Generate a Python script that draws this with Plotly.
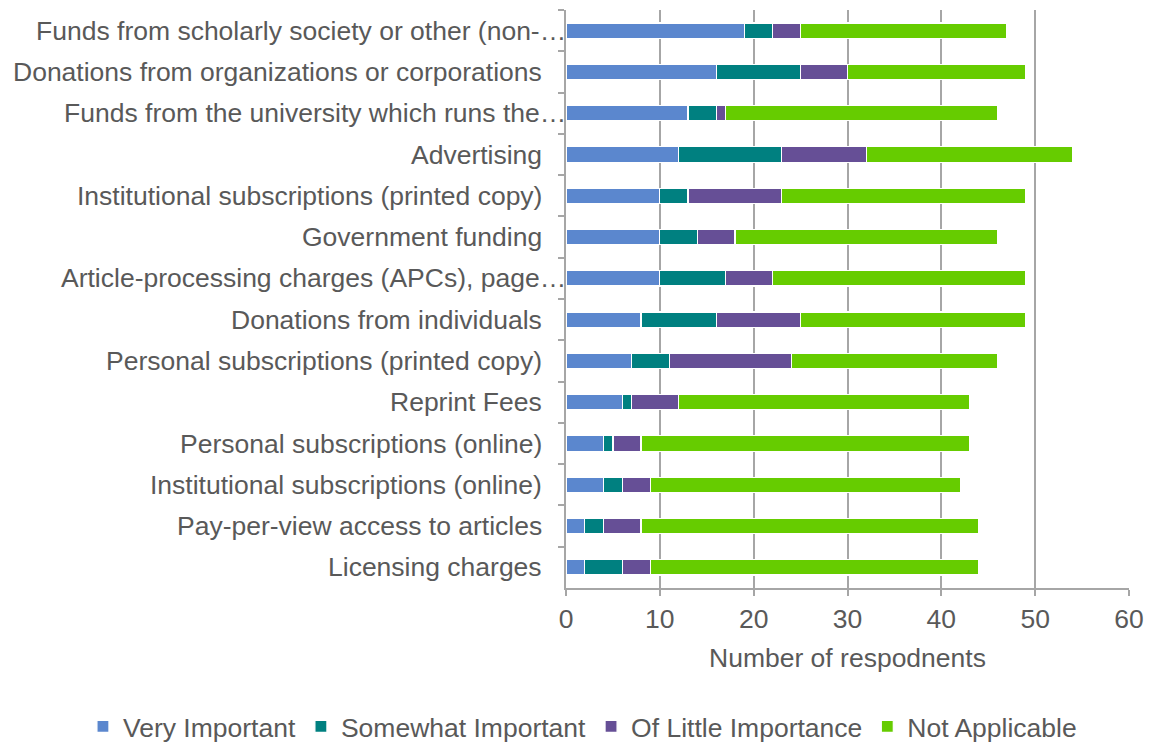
import plotly.graph_objects as go

# Funding sources, listed top to bottom
sources = [
    "Funds from scholarly society or other (non-…",
    "Donations from organizations or corporations",
    "Funds from the university which runs the…",
    "Advertising",
    "Institutional subscriptions (printed copy)",
    "Government funding",
    "Article-processing charges (APCs), page…",
    "Donations from individuals",
    "Personal subscriptions (printed copy)",
    "Reprint Fees",
    "Personal subscriptions (online)",
    "Institutional subscriptions (online)",
    "Pay-per-view access to articles",
    "Licensing charges",
]
truncated = {sources[0], sources[2], sources[6]}

very_important = [19, 16, 13, 12, 10, 10, 10, 8, 7, 6, 4, 4, 2, 2]
somewhat_important = [3, 9, 3, 11, 3, 4, 7, 8, 4, 1, 1, 2, 2, 4]
little_importance = [3, 5, 1, 9, 10, 4, 5, 9, 13, 5, 3, 3, 4, 3]
not_applicable = [22, 19, 29, 22, 26, 28, 27, 24, 22, 31, 35, 33, 36, 35]

series = [
    ("Very Important", very_important, "#5B87CE"),
    ("Somewhat Important", somewhat_important, "#008080"),
    ("Of Little Importance", little_importance, "#664F96"),
    ("Not Applicable", not_applicable, "#66CC00"),
]

x_ticks = [0, 10, 20, 30, 40, 50, 60]
x_title = "Number of respodnents"

FONT = "Liberation Sans, Arial, sans-serif"
FS = 26.5
TEXT = "#595959"
GRID = "#A6A6A6"

fig = go.Figure()
for name, vals, color in series:
    fig.add_trace(go.Bar(
        y=sources, x=vals, name=name, orientation="h",
        marker=dict(color=color, line=dict(color="white", width=1.2)),
    ))

# Category labels, right-aligned beside the value axis
for s in sources:
    fig.add_annotation(
        x=0, xref="paper", y=s, yref="y", text=s, showarrow=False,
        xanchor="right", yanchor="middle",
        xshift=2 if s in truncated else -22,
        font=dict(family=FONT, size=FS, color=TEXT),
    )

# Value-axis title under the tick labels
fig.add_annotation(
    x=0.5, xref="paper", y=-0.121, yref="paper", text=x_title, showarrow=False,
    xanchor="center", yanchor="middle",
    font=dict(family=FONT, size=FS, color=TEXT),
)

fig.update_layout(
    barmode="stack",
    bargap=0.63,
    width=1149, height=742,
    margin=dict(l=566, r=20, t=10, b=154, autoexpand=False),
    paper_bgcolor="white", plot_bgcolor="white",
    font=dict(family=FONT, size=FS, color=TEXT),
    legend=dict(
        orientation="h", x=-0.858, xanchor="left",
        y=-0.24, yanchor="middle",
        font=dict(family=FONT, size=FS, color=TEXT),
        traceorder="normal", itemwidth=30,
    ),
)
fig.update_xaxes(
    range=[0, 60], tickvals=x_ticks, showgrid=True, gridcolor=GRID, gridwidth=1.5,
    zeroline=False, showline=True, linecolor=GRID, linewidth=1.5,
    ticks="outside", ticklen=6, tickcolor=GRID, tickwidth=1.5,
    tickfont=dict(family=FONT, size=FS, color=TEXT),
)
fig.update_yaxes(
    categoryorder="array", categoryarray=sources, autorange="reversed",
    showticklabels=False, showline=True, linecolor=GRID, linewidth=1.5,
    ticks="outside", tickson="boundaries", ticklen=6, tickcolor=GRID, tickwidth=1.5,
    showgrid=False,
)

fig.write_html("out.html")
